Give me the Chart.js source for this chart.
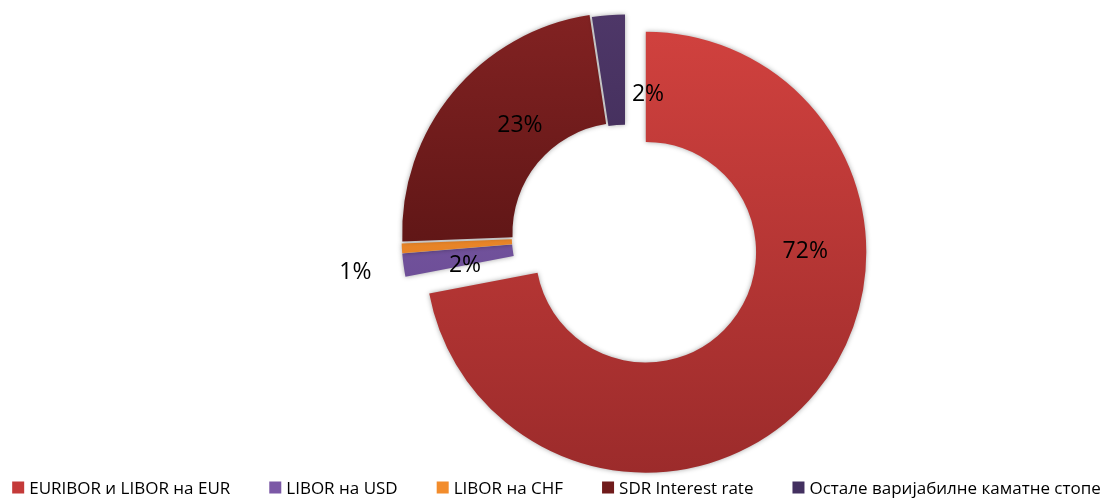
<!DOCTYPE html>
<html>
<head>
<meta charset="utf-8">
<script src="https://cdn.jsdelivr.net/npm/chart.js@4.4.1/dist/chart.umd.min.js"></script>
<style>
  html, body { margin: 0; padding: 0; background: #fff; }
</style>
</head>
<body>
<canvas id="rateChart" width="1109" height="499"></canvas>
<script>
const categories = ['EURIBOR и LIBOR на EUR', 'LIBOR на USD', 'LIBOR на CHF', 'SDR Interest rate', 'Остале варијабилне каматне стопе'];
const shares = [72.0, 1.7, 0.7, 23.2, 2.4];

const flatColors = ['#c43a39', '#7b58a6', '#f28c2c', '#701b1b', '#433060'];
const gradTop = ['#d0413e', '#8463b0', '#f89634', '#822222', '#4e3768'];
const gradBottom = ['#9c2b2b', '#5f4188', '#d9741c', '#420c0c', '#2f1f44'];
const explode = [27, 3, 3, 3, 0];
// percent label spots: degrees clockwise from 12 o'clock and distance from the slice centre
const labelAngle = [89, 259.7, 262.5, 316.7, 9.2];
const labelRadius = [159.5, 159.6, 269, 149.8, 143.9];

const RADIUS = 220.5;
const LABEL_SIZE = 23;
const LEGEND_SIZE = 17;
const LEGEND_BOX = 12;
const LEGEND_TEXT_GAP = 5;
const LEGEND_ITEM_GAP = 39;
const LEGEND_Y = 487.5;
const LEGEND_SHIFT = 2;

const total = shares.reduce((a, b) => a + b, 0);

function sliceGradient(context) {
    const i = context.dataIndex;
    const chart = context.chart;
    const area = chart.chartArea;
    if (!area) {
        return flatColors[i];
    }
    const cy = (area.top + area.bottom) / 2;
    const g = chart.ctx.createLinearGradient(0, cy - RADIUS, 0, cy + RADIUS);
    g.addColorStop(0, gradTop[i]);
    g.addColorStop(1, gradBottom[i]);
    return g;
}

// pull slices out along their middle angle, with a soft shadow under each
const explodePlugin = {
    id: 'explode',
    beforeDatasetDraw(chart, args) {
        const ctx = chart.ctx;
        args.meta.data.forEach((arc, i) => {
            const mid = (arc.startAngle + arc.endAngle) / 2;
            ctx.save();
            ctx.translate(Math.cos(mid) * explode[i], Math.sin(mid) * explode[i]);
            ctx.shadowColor = 'rgba(0,0,0,0.35)';
            ctx.shadowBlur = 5;
            arc.draw(ctx);
            ctx.restore();
        });
        return false;
    }
};

const pctLabels = {
    id: 'pctLabels',
    afterDatasetsDraw(chart) {
        const ctx = chart.ctx;
        const meta = chart.getDatasetMeta(0);
        ctx.save();
        ctx.font = LABEL_SIZE + 'px "Open Sans"';
        ctx.fillStyle = '#000';
        ctx.textAlign = 'center';
        ctx.textBaseline = 'alphabetic';
        meta.data.forEach((arc, i) => {
            const mid = (arc.startAngle + arc.endAngle) / 2;
            const cx = arc.x + Math.cos(mid) * explode[i];
            const cy = arc.y + Math.sin(mid) * explode[i];
            const a = (labelAngle[i] - 90) * Math.PI / 180;
            const x = cx + Math.cos(a) * labelRadius[i];
            const y = cy + Math.sin(a) * labelRadius[i];
            const pct = Math.round(shares[i] / total * 100);
            ctx.fillText(pct + '%', x, y + LABEL_SIZE * 0.36);
        });
        ctx.restore();
    }
};

// one centred row of square swatches under the ring
const bottomLegend = {
    id: 'bottomLegend',
    afterDraw(chart) {
        const ctx = chart.ctx;
        ctx.save();
        ctx.font = LEGEND_SIZE + 'px "Open Sans"';
        ctx.textAlign = 'left';
        ctx.textBaseline = 'alphabetic';
        const widths = categories.map(t => ctx.measureText(t).width);
        const rowWidth = widths.reduce((a, b) => a + b, 0)
            + categories.length * (LEGEND_BOX + LEGEND_TEXT_GAP)
            + (categories.length - 1) * LEGEND_ITEM_GAP;
        let x = chart.width / 2 - rowWidth / 2 + LEGEND_SHIFT;
        categories.forEach((text, i) => {
            ctx.fillStyle = flatColors[i];
            ctx.fillRect(x, LEGEND_Y - LEGEND_BOX / 2, LEGEND_BOX, LEGEND_BOX);
            x += LEGEND_BOX + LEGEND_TEXT_GAP;
            ctx.fillStyle = '#000';
            ctx.fillText(text, x, LEGEND_Y + LEGEND_SIZE * 0.36);
            x += widths[i] + LEGEND_ITEM_GAP;
        });
        ctx.restore();
    }
};

new Chart(document.getElementById('rateChart'), {
    type: 'doughnut',
    data: {
        labels: categories,
        datasets: [{
            data: shares,
            backgroundColor: sliceGradient,
            borderWidth: 0
        }]
    },
    options: {
        responsive: false,
        animation: false,
        cutout: '50%',
        radius: RADIUS,
        layout: {
            padding: { left: 141, top: 0, right: 0, bottom: 29 }
        },
        plugins: {
            tooltip: { enabled: false },
            legend: { display: false }
        }
    },
    plugins: [explodePlugin, pctLabels, bottomLegend]
});
</script>
</body>
</html>
